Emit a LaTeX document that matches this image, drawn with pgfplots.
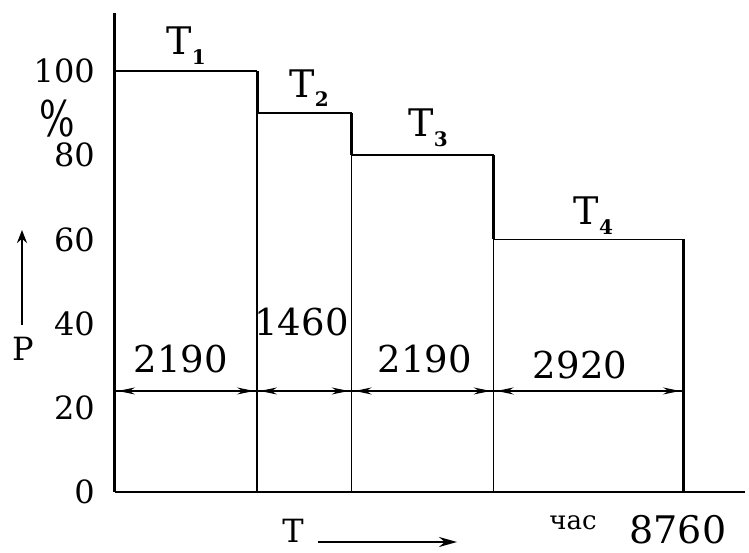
\documentclass[border=0pt]{standalone}
\usepackage{pgfplots}
\pgfplotsset{compat=1.18}
\usepackage{fontspec}
\setmainfont{DejaVu Serif}
\usetikzlibrary{arrows.meta}
\newcommand{\Tsub}[1]{T\raisebox{-0.25em}{\fontsize{20}{20}\selectfont\bfseries #1}}
\begin{document}
\begin{tikzpicture}
\useasboundingbox (-115pt,-61pt) rectangle (634pt,492pt);
\begin{axis}[
  at={(0pt,0pt)}, anchor=south west,
  scale only axis, width=630pt, height=479pt,
  xmin=0, xmax=9716, ymin=0, ymax=113.8,
  axis x line=bottom, axis y line=left,
  axis line style={-},
  x axis line style={-, line width=2pt},
  y axis line style={-, line width=3pt},
  xtick=\empty, ytick={0,20,40,60,80,100},
  major tick length=0pt,
  yticklabel style={font=\fontsize{32}{32}\selectfont, anchor=east, inner sep=0pt, xshift=-20pt},
  /pgf/number format/assume math mode=true,
  clip=false, no markers,
]
% horizontal steps
\addplot[black, line width=1.6pt] coordinates {(0,100)(2190,100)};
\addplot[black, line width=1.6pt] coordinates {(2190,90)(3650,90)};
\addplot[black, line width=1.6pt] coordinates {(3650,80)(5840,80)};
\addplot[black, line width=1.6pt] coordinates {(5840,60)(8760,60)};
% thick drops
\addplot[black, line width=3pt] coordinates {(2190,100)(2190,90)};
\addplot[black, line width=3pt] coordinates {(3650,90)(3650,80)};
\addplot[black, line width=3pt] coordinates {(5840,80)(5840,60)};
\addplot[black, line width=3pt] coordinates {(8760,60)(8760,0)};
% thin verticals
\addplot[black, line width=1.2pt] coordinates {(2190,90)(2190,0)};
\addplot[black, line width=1.2pt] coordinates {(3650,80)(3650,0)};
\addplot[black, line width=1.2pt] coordinates {(5840,60)(5840,0)};
% dimension line
\addplot[black, line width=1.2pt] coordinates {(0,24)(8760,24)};
\addplot[black, line width=1.2pt, {Stealth[length=17pt,width=7pt]}-{Stealth[length=17pt,width=7pt]}, shorten <=3pt, shorten >=3pt] coordinates {(0,24)(2190,24)};
\addplot[black, line width=1.2pt, {Stealth[length=17pt,width=7pt]}-{Stealth[length=17pt,width=7pt]}, shorten <=3pt, shorten >=3pt] coordinates {(2190,24)(3650,24)};
\addplot[black, line width=1.2pt, {Stealth[length=17pt,width=7pt]}-{Stealth[length=17pt,width=7pt]}, shorten <=3pt, shorten >=3pt] coordinates {(3650,24)(5840,24)};
\addplot[black, line width=1.2pt, {Stealth[length=17pt,width=7pt]}-{Stealth[length=17pt,width=7pt]}, shorten <=3pt, shorten >=3pt] coordinates {(5840,24)(8760,24)};
% labels
\node[font=\fontsize{37}{37}\selectfont] at (axis cs:1018,31.5) {2190};
\node[font=\fontsize{37}{37}\selectfont] at (axis cs:2876,40.4) {1460};
\node[font=\fontsize{37}{37}\selectfont] at (axis cs:4781,31.6) {2190};
\node[font=\fontsize{37}{37}\selectfont] at (axis cs:7172,30.2) {2920};
\node[font=\fontsize{38}{38}\selectfont] at (axis cs:1096,106) {\Tsub{1}};
\node[font=\fontsize{38}{38}\selectfont] at (axis cs:2994,96) {\Tsub{2}};
\node[font=\fontsize{38}{38}\selectfont] at (axis cs:4830,86.5) {\Tsub{3}};
\node[font=\fontsize{38}{38}\selectfont] at (axis cs:7377,65.6) {\Tsub{4}};
\end{axis}
% annotations outside the axis
\node[font=\fontsize{34}{34}\selectfont] at (-58pt,373pt) {\scalebox{1.1}[1.45]{\%}};
\draw[line width=2pt, -{Stealth[length=13pt,width=10pt]}] (-93pt,167pt) -- (-93pt,262pt);
\node[font=\fontsize{32}{32}\selectfont] at (-92pt,143pt) {P};
\node[font=\fontsize{32}{32}\selectfont, inner sep=0pt] at (178pt,-39pt) {T};
\draw[line width=2pt, -{Stealth[length=18pt,width=10pt]}] (203pt,-50pt) -- (342pt,-50pt);
\node[font=\fontsize{26}{26}\selectfont] at (458pt,-31pt) {час};
\node[font=\fontsize{38}{38}\selectfont] at (563pt,-38pt) {8760};
\end{tikzpicture}
\end{document}
